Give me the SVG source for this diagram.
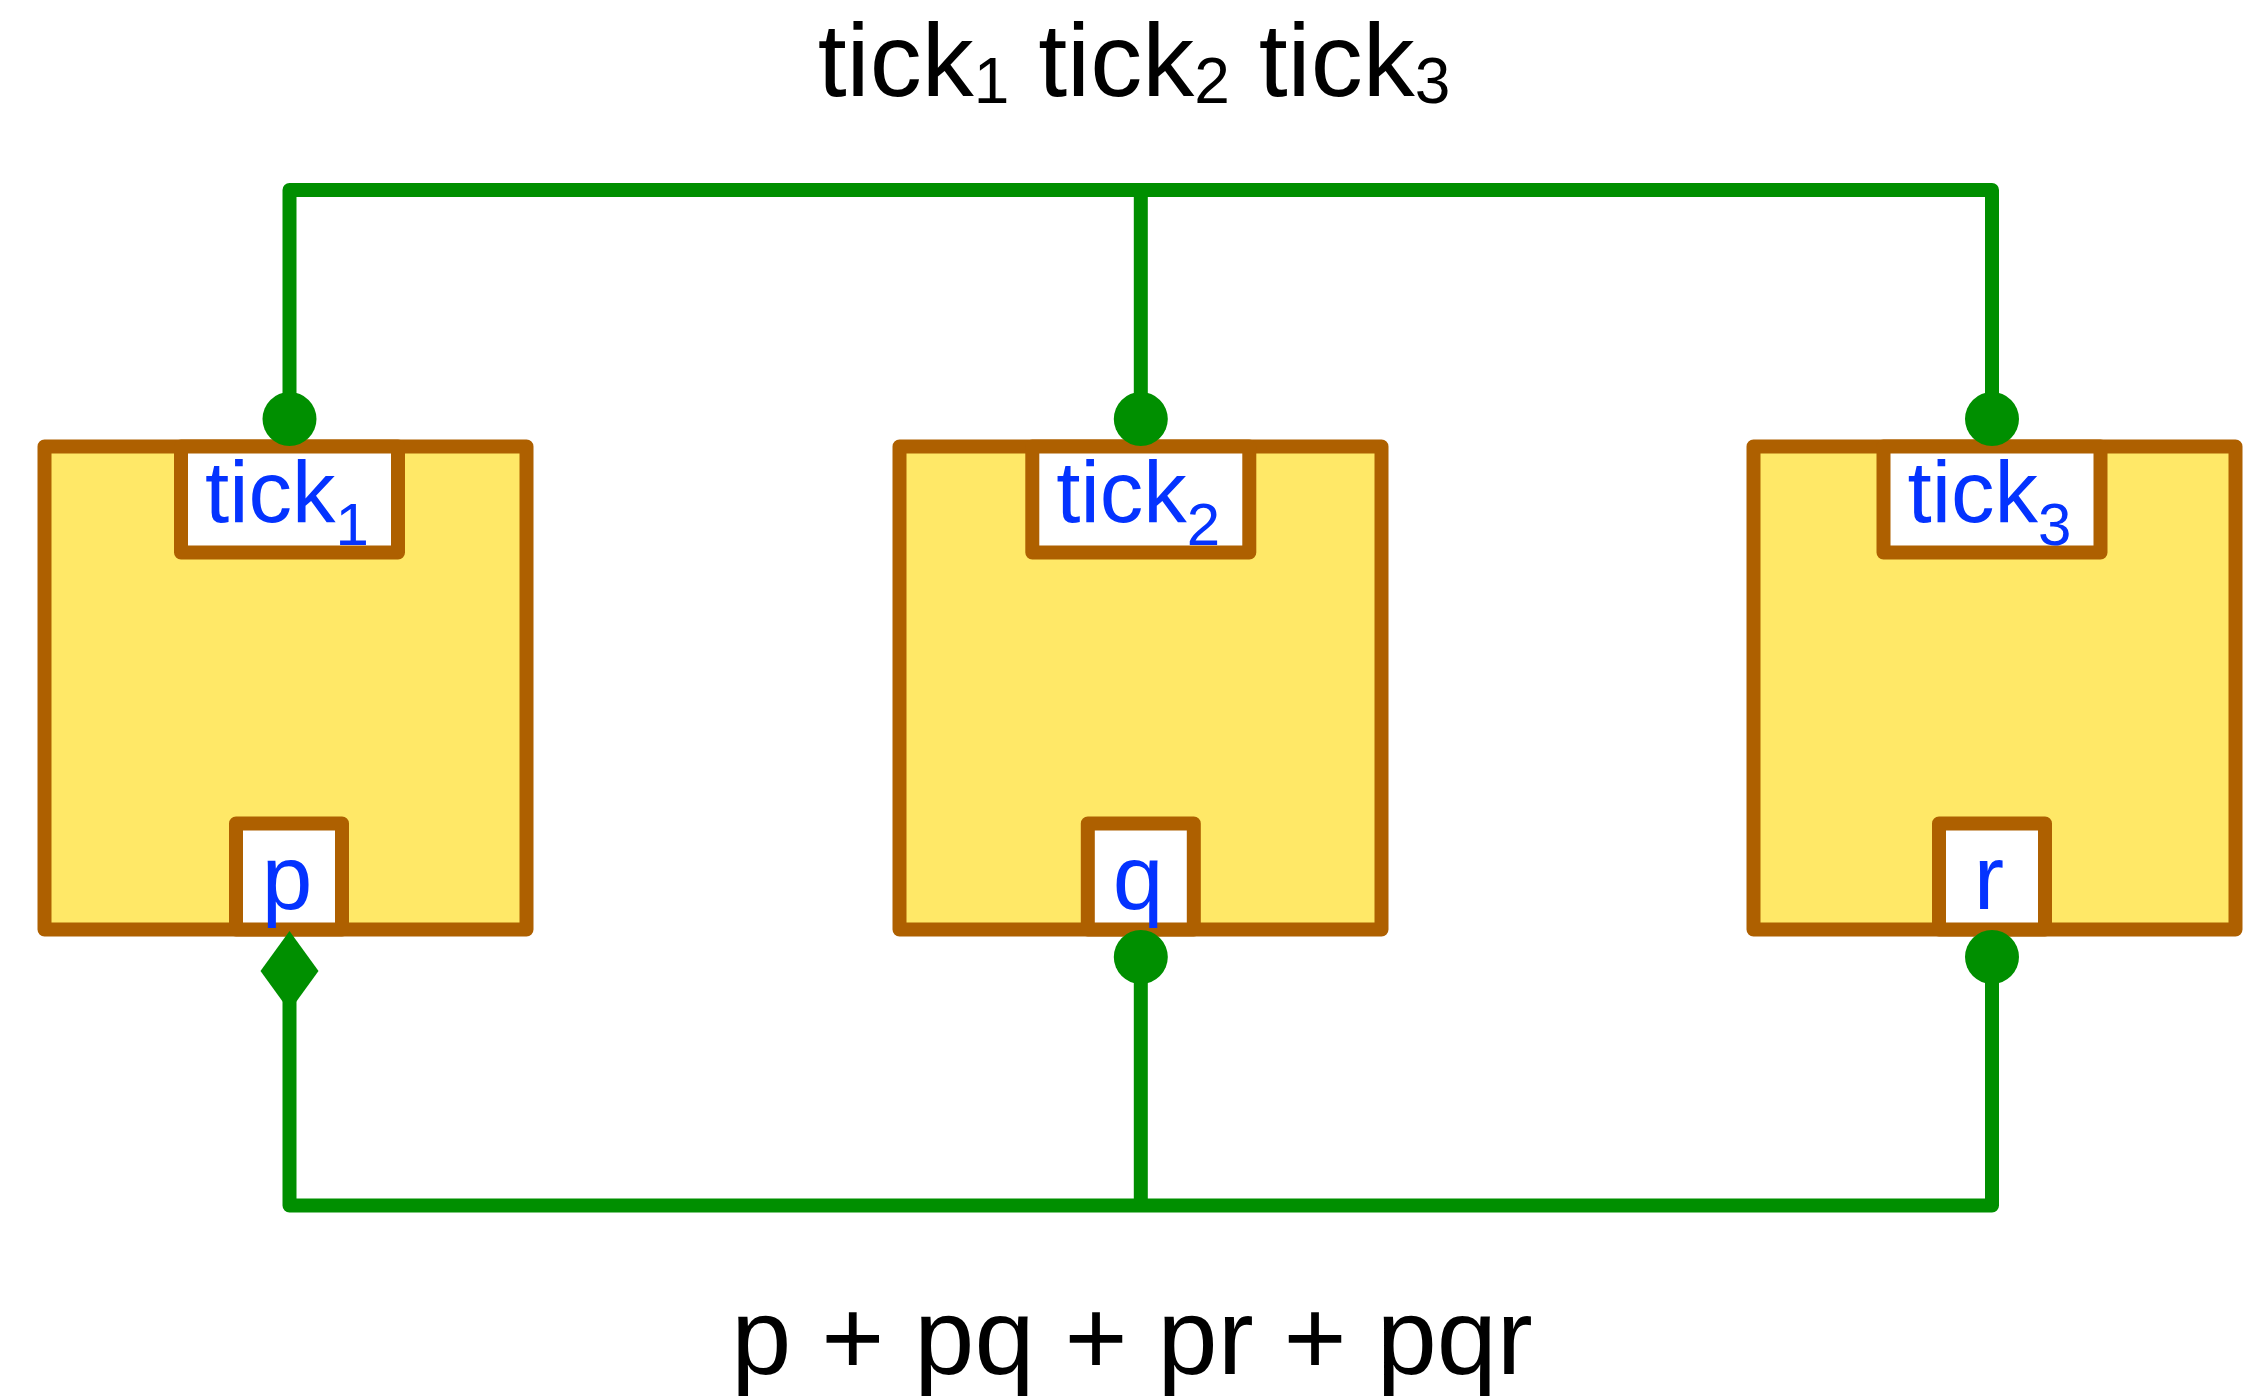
<svg xmlns="http://www.w3.org/2000/svg" width="2265" height="1398" viewBox="0 0 2265 1398">
<style>
.box{fill:#FFE867;stroke:#AE6000;stroke-width:14;stroke-linejoin:round}
.port{fill:#FFFFFF;stroke:#AE6000;stroke-width:14;stroke-linejoin:round}
.plab{font-family:"Liberation Sans",Arial,sans-serif;fill:#0433FF;font-size:87px}
.vlab{font-family:"Liberation Sans",Arial,sans-serif;fill:#0433FF;font-size:91px;text-anchor:middle}
.wire{fill:none;stroke:#008F00;stroke-width:14;stroke-linejoin:round}
.dot{fill:#008F00}
.cap{font-family:"Liberation Sans",Arial,sans-serif;fill:#000000;text-anchor:middle}
</style>
<rect width="2265" height="1398" fill="#FFFFFF"/>
<text class="cap" x="1134" y="96" font-size="104">tick<tspan font-size="64" dy="7">1</tspan><tspan dy="-7"> tick</tspan><tspan font-size="64" dy="7">2</tspan><tspan dy="-7"> tick</tspan><tspan font-size="64" dy="7">3</tspan></text>
<text class="cap" x="1132" y="1374" font-size="108">p + pq + pr + pqr</text>
<g id="node-1">
<rect class="box" x="44.5" y="446.5" width="482" height="483"/>
<rect class="port" x="181" y="446.5" width="217" height="106"/>
<text class="plab" x="205" y="521.5">tick<tspan font-size="60" dy="23">1</tspan></text>
<rect class="port" x="236" y="823.5" width="106" height="106"/>
<text class="vlab" x="287" y="909">p</text>
</g>
<g id="node-2">
<rect class="box" x="899.5" y="446.5" width="482" height="483"/>
<rect class="port" x="1032.3" y="446.5" width="217" height="106"/>
<text class="plab" x="1056.3" y="521.5">tick<tspan font-size="60" dy="23">2</tspan></text>
<rect class="port" x="1087.8" y="823.5" width="106" height="106"/>
<text class="vlab" x="1138" y="909">q</text>
</g>
<g id="node-3">
<rect class="box" x="1753.5" y="446.5" width="482" height="483"/>
<rect class="port" x="1883.5" y="446.5" width="217" height="106"/>
<text class="plab" x="1907.6" y="521.5">tick<tspan font-size="60" dy="23">3</tspan></text>
<rect class="port" x="1939" y="823.5" width="106" height="106"/>
<text class="vlab" x="1989" y="909">r</text>
</g>
<g id="connectors">
<path class="wire" d="M289.5 410 V190 H1992 V410 M1140.8 190 V410"/>
<path class="wire" d="M289.5 990 V1205.5 H1992 V960 M1140.8 1205.5 V960"/>
<circle class="dot" cx="289.5" cy="419" r="27"/>
<circle class="dot" cx="1140.8" cy="419" r="27"/>
<circle class="dot" cx="1992" cy="419" r="27"/>
<circle class="dot" cx="1140.8" cy="957" r="27"/>
<circle class="dot" cx="1992" cy="957" r="27"/>
<polygon class="dot" points="289.5,931 318.5,971 289.5,1011 260.5,971"/>
</g>
</svg>
